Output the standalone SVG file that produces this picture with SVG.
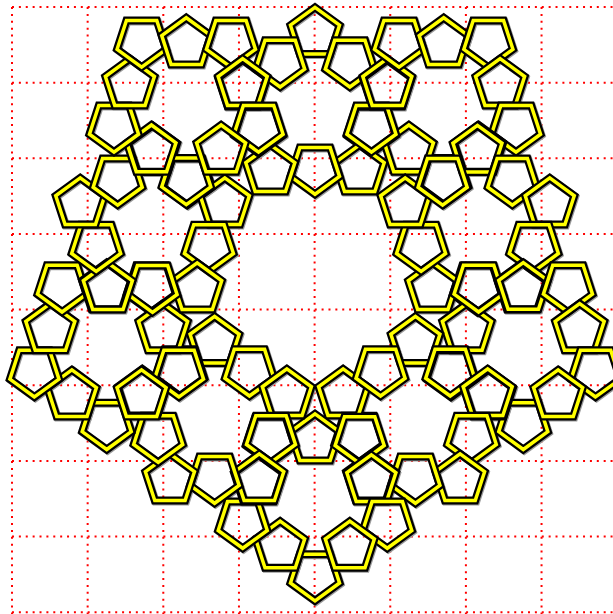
<svg xmlns="http://www.w3.org/2000/svg" width="613" height="614" viewBox="0 0 613 614">
<style>
.k{fill:none;stroke:#000;stroke-width:8;stroke-linejoin:miter}
.y{fill:none;stroke:#ffff00;stroke-width:3.5;stroke-linejoin:miter}
.s{fill:none;stroke:#9a9a9a;stroke-width:8;stroke-linejoin:miter}
.g{fill:none;stroke:#ff0000;stroke-width:2;stroke-dasharray:2 4.88}
</style>
<defs>
<path id="shU" d="M0,-25.8 L24.537,-7.973 L15.165,20.873 L-15.165,20.873 L-24.537,-7.973 Z"/>
<path id="shD" d="M0,25.8 L-24.537,7.973 L-15.165,-20.873 L15.165,-20.873 L24.537,7.973 Z"/>
<g id="pU"><use href="#shU" class="k"/><use href="#shU" class="y"/></g>
<g id="pD"><use href="#shD" class="k"/><use href="#shD" class="y"/></g>
<g id="ringU">
<use href="#pU" transform="translate(0,-76)"/>
<use href="#pD" transform="translate(34.844,-47.959)"/>
<use href="#pU" transform="translate(72.28,-23.485)"/>
<use href="#pD" transform="translate(56.379,18.318)"/>
<use href="#pU" transform="translate(44.672,61.485)"/>
<use href="#pD" transform="translate(0,59.28)"/>
<use href="#pU" transform="translate(-44.672,61.485)"/>
<use href="#pD" transform="translate(-56.379,18.318)"/>
<use href="#pU" transform="translate(-72.28,-23.485)"/>
<use href="#pD" transform="translate(-34.844,-47.959)"/>
</g>
<g id="ringS" class="s">
<use href="#shU" transform="translate(0,-76)"/>
<use href="#shD" transform="translate(34.844,-47.959)"/>
<use href="#shU" transform="translate(72.28,-23.485)"/>
<use href="#shD" transform="translate(56.379,18.318)"/>
<use href="#shU" transform="translate(44.672,61.485)"/>
<use href="#shD" transform="translate(0,59.28)"/>
<use href="#shU" transform="translate(-44.672,61.485)"/>
<use href="#shD" transform="translate(-56.379,18.318)"/>
<use href="#shU" transform="translate(-72.28,-23.485)"/>
<use href="#shD" transform="translate(-34.844,-47.959)"/>
</g>
<g id="level2-shadow">
<use href="#ringS" transform="translate(315,109.18)"/>
<use href="#ringS" transform="translate(443.725,102.825) rotate(180)"/>
<use href="#ringS" transform="translate(477.459,227.214)"/>
<use href="#ringS" transform="translate(523.281,347.675) rotate(180)"/>
<use href="#ringS" transform="translate(415.405,418.196)"/>
<use href="#ringS" transform="translate(315,499) rotate(180)"/>
<use href="#ringS" transform="translate(214.595,418.196)"/>
<use href="#ringS" transform="translate(106.719,347.675) rotate(180)"/>
<use href="#ringS" transform="translate(152.541,227.214)"/>
<use href="#ringS" transform="translate(186.275,102.825) rotate(180)"/>
</g>
</defs>
<rect width="613" height="614" fill="#fff"/>
<g id="grid" class="g">
<path d="M12,7V614 M87.65,7V614 M163.3,7V614 M238.95,7V614 M314.6,7V614 M390.25,7V614 M465.9,7V614 M541.55,7V614"/>
<path d="M12,7H613 M12,82.65H613 M12,158.3H613 M12,233.95H613 M12,309.6H613 M12,385.25H613 M12,460.9H613 M12,536.55H613 M12,612.2H613"/>
</g>
<use id="shadow" href="#level2-shadow" transform="translate(1,1)"/>
<g id="rings">
<use id="ring-top" href="#ringU" transform="translate(315,109.18)"/>
<use id="ring-tr" href="#ringU" transform="translate(443.725,102.825) rotate(180)"/>
<use id="ring-ru" href="#ringU" transform="translate(477.459,227.214)"/>
<use id="ring-rl" href="#ringU" transform="translate(523.281,347.675) rotate(180)"/>
<use id="ring-br" href="#ringU" transform="translate(415.405,418.196)"/>
<use id="ring-b" href="#ringU" transform="translate(315,499) rotate(180)"/>
<use id="ring-bl" href="#ringU" transform="translate(214.595,418.196)"/>
<use id="ring-ll" href="#ringU" transform="translate(106.719,347.675) rotate(180)"/>
<use id="ring-lu" href="#ringU" transform="translate(152.541,227.214)"/>
<use id="ring-tl" href="#ringU" transform="translate(186.275,102.825) rotate(180)"/>
</g>
</svg>
